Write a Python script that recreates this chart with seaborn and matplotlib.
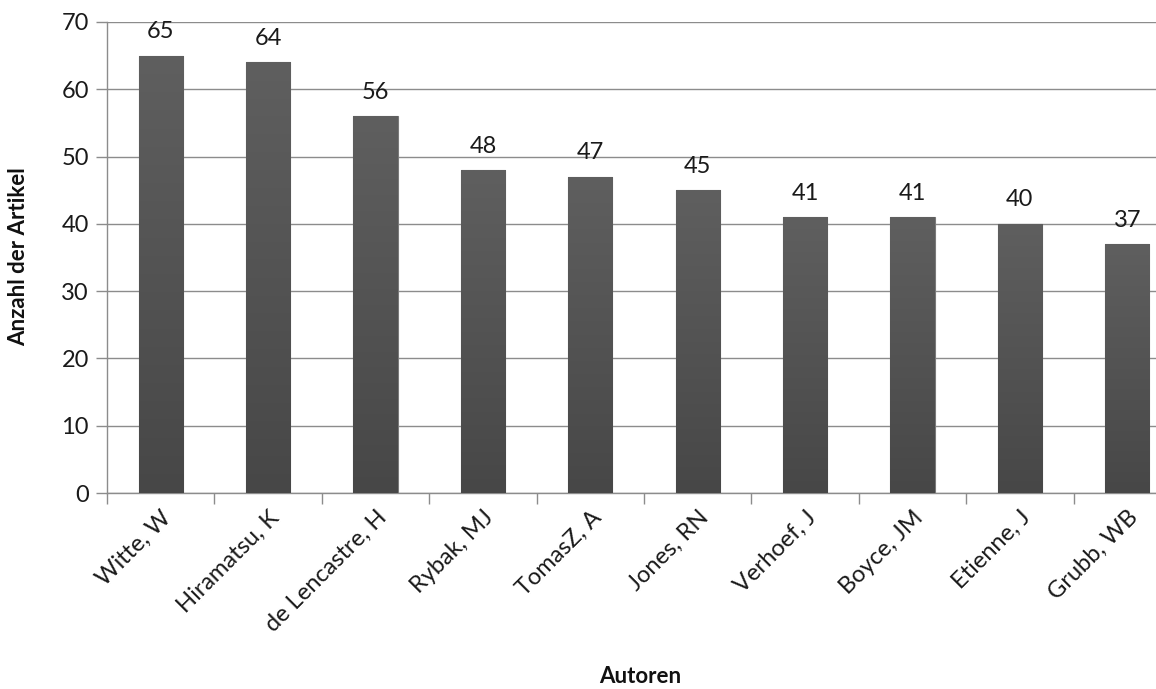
import numpy as np
import pandas as pd
import matplotlib
matplotlib.use("Agg")
import matplotlib.pyplot as plt
import seaborn as sns
from matplotlib.colors import LinearSegmentedColormap

authors = ["Witte, W", "Hiramatsu, K", "de Lencastre, H", "Rybak, MJ", "TomasZ, A",
           "Jones, RN", "Verhoef, J", "Boyce, JM", "Etienne, J", "Grubb, WB"]
articles = [65, 64, 56, 48, 47, 45, 41, 41, 40, 37]
y_ticks = [0, 10, 20, 30, 40, 50, 60, 70]

df = pd.DataFrame({"Autoren": authors, "Anzahl": articles})

sns.set_theme(style="white")
plt.rcParams["font.family"] = ["Lato", "DejaVu Sans"]

fig = plt.figure(figsize=(11.56, 6.89), dpi=100)
ax = fig.add_axes([107 / 1156, 1 - 493 / 689, (1181 - 107) / 1156, (493 - 22) / 689])

sns.barplot(data=df, x="Autoren", y="Anzahl", color="#555555", width=0.41,
            edgecolor="#7a7a7a", linewidth=0.8, ax=ax, zorder=3)

# vertical gradient fill for each bar, plus value labels
grad = LinearSegmentedColormap.from_list("bargrad", ["#474747", "#5f5f5f"])
gimg = np.linspace(0, 1, 256).reshape(-1, 1)
for p in ax.patches:
    x0, w, h = p.get_x(), p.get_width(), p.get_height()
    im = ax.imshow(gimg, cmap=grad, aspect="auto", origin="lower",
                   extent=[x0, x0 + w, 0, h], zorder=3.5)
    im.set_clip_path(p)
    ax.text(x0 + w / 2, h + 2.0, f"{int(h)}", ha="center", va="bottom",
            fontsize=17, color="#1a1a1a", zorder=5)

ax.set_xlim(-0.5, len(authors) - 0.5)
ax.set_ylim(0, 70)
ax.set_yticks(y_ticks)
ax.yaxis.grid(True, color="#8c8c8c", linewidth=1.0, zorder=0)
ax.set_axisbelow(True)

for s in ["top", "right"]:
    ax.spines[s].set_visible(False)
for s in ["left", "bottom"]:
    ax.spines[s].set_color("#8c8c8c")
    ax.spines[s].set_linewidth(1.0)

ax.set_xticks(np.arange(len(authors)))
ax.set_xticklabels(authors, rotation=45, ha="right", rotation_mode="anchor",
                   fontsize=17, color="#1a1a1a")
ax.tick_params(axis="x", which="major", bottom=True, length=0, pad=10)
ax.set_xticks(np.arange(len(authors) + 1) - 0.5, minor=True)
ax.tick_params(axis="x", which="minor", bottom=True, length=8, width=1.0,
               color="#8c8c8c", direction="out")
ax.tick_params(axis="y", left=True, length=8, width=1.0, color="#8c8c8c", direction="out",
               labelsize=17, labelcolor="#1a1a1a", pad=5)

ax.set_xlabel("Autoren", fontsize=16, fontweight="bold", color="#111111")
ax.set_ylabel("Anzahl der Artikel", fontsize=16, fontweight="bold", color="#111111")
ax.xaxis.set_label_coords((640 - 107) / (1181 - 107), -(666 - 493) / (493 - 22))
ax.yaxis.set_label_coords(-(107 - 8) / (1181 - 107), (493 - 257) / (493 - 22))
ax.yaxis.label.set_va("top")

fig.savefig("out.png", dpi=100, facecolor="white")
